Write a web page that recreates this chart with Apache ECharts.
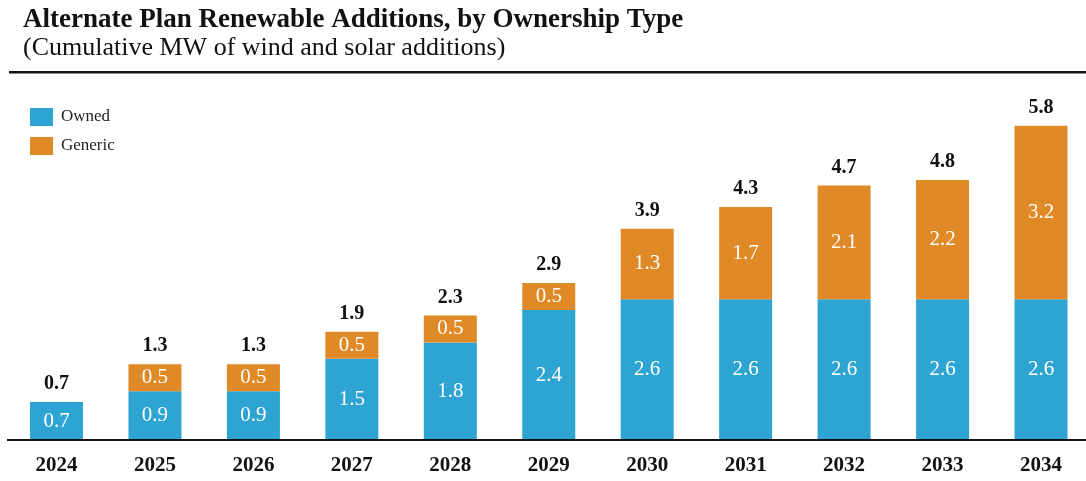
<!DOCTYPE html>
<html>
<head>
<meta charset="utf-8">
<script src="https://cdn.jsdelivr.net/npm/echarts@6/dist/echarts.min.js"></script>
<style>
html,body{margin:0;padding:0;background:#fff;}
#c{width:1086px;height:481px;}
</style>
</head>
<body>
<div id="c"></div>
<script>
const categories = ['2024','2025','2026','2027','2028','2029','2030','2031','2032','2033','2034'];
const owned   = [0.7, 0.9, 0.9, 1.5, 1.8, 2.4, 2.6, 2.6, 2.6, 2.6, 2.6];
const generic = [0,   0.5, 0.5, 0.5, 0.5, 0.5, 1.3, 1.7, 2.1, 2.2, 3.2];
const totals  = [0.7, 1.3, 1.3, 1.9, 2.3, 2.9, 3.9, 4.3, 4.7, 4.8, 5.8];

const serif = "'Liberation Serif', 'DejaVu Serif', serif";
const chart = echarts.init(document.getElementById('c'));
chart.setOption({
  animation: false,
  title: {
    text: 'Alternate Plan Renewable Additions, by Ownership Type',
    subtext: '(Cumulative MW of wind and solar additions)',
    left: 18, top: 2, itemGap: 1,
    textStyle: {fontFamily: serif, fontWeight: 'bold', fontSize: 27, color: '#111'},
    subtextStyle: {fontFamily: serif, fontSize: 26, color: '#111'}
  },
  graphic: [
    {type: 'rect', shape: {x: 9, y: 71, width: 1077, height: 2.5}, style: {fill: '#111'}},
    {type: 'rect', shape: {x: 7, y: 439, width: 1079, height: 2}, style: {fill: '#111'}, z: 10}
  ],
  legend: {
    orient: 'vertical', left: 30, top: 108, padding: 0, itemWidth: 23, itemHeight: 18, itemGap: 11,
    icon: 'rect', data: ['Owned', 'Generic'],
    textStyle: {fontFamily: serif, fontSize: 17, color: '#222', padding: [0, 0, 0, 3]}
  },
  grid: {left: 56.5, right: 45, top: 115, bottom: 41, containLabel: false},
  xAxis: {
    type: 'category', data: categories, boundaryGap: false,
    axisLine: {show: false},
    axisTick: {show: false},
    splitLine: {show: false},
    axisLabel: {fontFamily: serif, fontWeight: 'bold', fontSize: 21, color: '#111', margin: 15}
  },
  yAxis: {type: 'value', min: 0, max: 6, show: false, splitLine: {show: false}},
  series: [
    {
      name: 'Owned', type: 'bar', stack: 's', data: owned, barWidth: 53,
      itemStyle: {color: '#2EA4D3'},
      label: {show: true, position: 'inside', fontFamily: serif, fontSize: 21, color: '#fff',
        formatter: p => p.value > 0 ? p.value.toFixed(1) : ''}
    },
    {
      name: 'Generic', type: 'bar', stack: 's', data: generic, barWidth: 53,
      itemStyle: {color: '#E08A27'},
      label: {show: true, position: 'inside', fontFamily: serif, fontSize: 21, color: '#fff',
        formatter: p => p.value > 0 ? p.value.toFixed(1) : ''}
    },
    {
      name: 'Total', type: 'bar', stack: 's', data: totals.map(() => 0), barWidth: 53,
      itemStyle: {color: 'transparent'},
      label: {show: true, position: 'top', distance: 8, fontFamily: serif, fontWeight: 'bold', fontSize: 20, color: '#111',
        formatter: p => totals[p.dataIndex].toFixed(1)}
    }
  ]
});
</script>
</body>
</html>
